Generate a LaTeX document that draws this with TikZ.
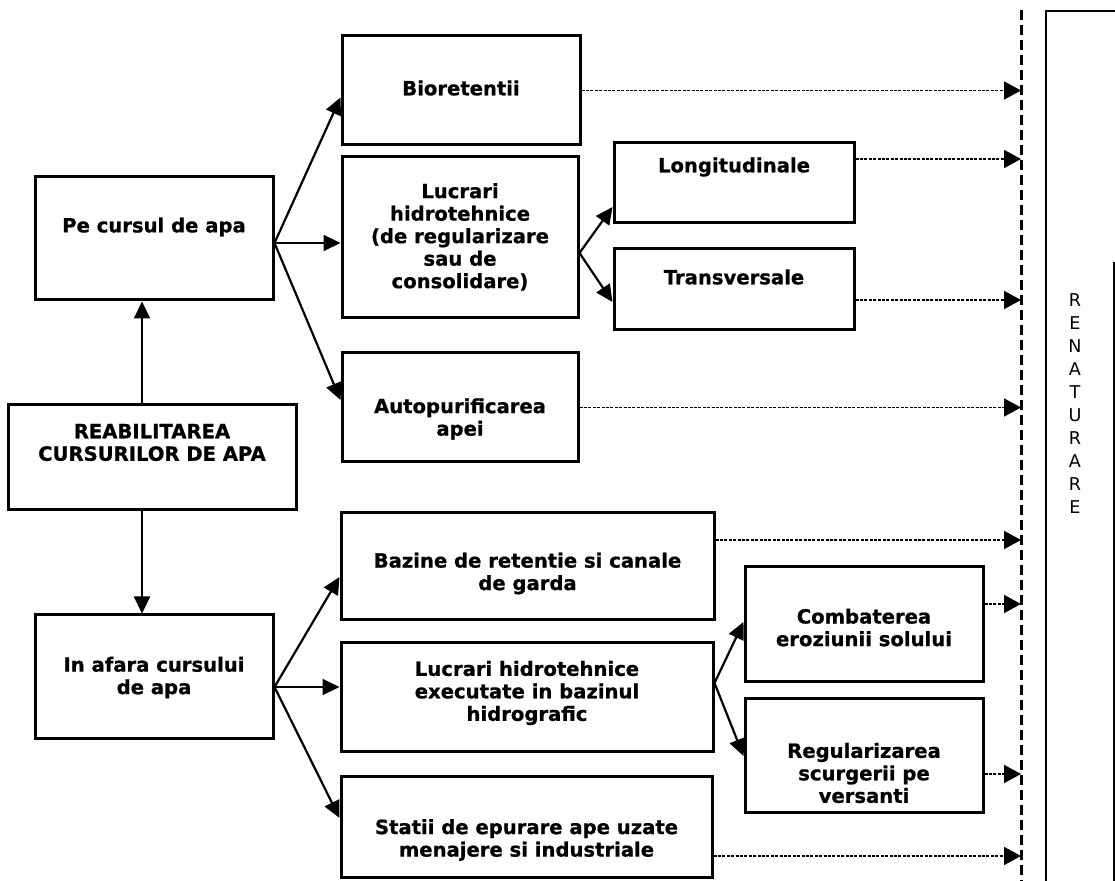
\documentclass[tikz,border=0pt]{standalone}
\usepackage{fontspec}
\setmainfont{DejaVu Sans}
\newfontface\heavyface[FakeBold=0.8]{DejaVu Sans Bold}
\usetikzlibrary{arrows.meta}
\tikzset{
  boxst/.style={draw, line width=1.5pt, inner sep=0pt, rectangle},
  txt/.style={font=\fontsize{9.8pt}{11.25pt}\selectfont\heavyface, align=center, inner sep=0pt},
  arr/.style={line width=1.1pt, -{Triangle[length=8.5pt,width=8pt]}},
  dotarr/.style={line width=0.9pt, dash pattern=on 1.5pt off 0.7pt, -{Triangle[length=8.5pt,width=9pt]}},
  sepline/.style={line width=1.5pt, dash pattern=on 5pt off 2.5pt},
}
\newcommand\mybox[7]{%
  \node[boxst, minimum width={(#4-#2)*0.5pt}, minimum height={(#5-#3)*0.5pt}] (#1) at ({(#2+#4)/2},{(#3+#5)/2}) {};
  \node[txt] (#1-t) at ({(#2+#4)/2},#6) {#7};
}
\begin{document}
\begin{tikzpicture}[x=0.5pt,y=-0.5pt]
\fill[white] (0,0) rectangle (1115,881);
\useasboundingbox (0,0) rectangle (1115,881);

\mybox{reab}{8}{405}{296}{510}{442.5}{REABILITAREA\\CURSURILOR DE APA}
\mybox{pe}{35}{177}{273}{300}{227}{Pe cursul de apa}
\mybox{afara}{35}{615}{273}{739}{677.5}{In afara cursului\\de apa}
\mybox{bio}{342}{36}{580}{145}{88}{Bioretentii}
\mybox{luc1}{342}{157}{578}{318}{237}{Lucrari\\hidrotehnice\\(de regularizare\\sau de\\consolidare)}
\mybox{auto}{342}{353}{578}{462}{419}{Autopurificarea\\apei}
\mybox{lon}{614}{143}{854}{223}{167}{Longitudinale}
\mybox{tra}{614}{249}{854}{330}{277}{Transversale}
\mybox{baz}{341}{513}{714}{620}{573.5}{Bazine de retentie si canale\\de garda}
\mybox{luc2}{341}{643}{713}{752}{693}{Lucrari hidrotehnice\\executate in bazinul\\hidrografic}
\mybox{sta}{341}{777}{712}{878}{840}{Statii de epurare ape uzate\\menajere si industriale}
\mybox{com}{745}{567}{983}{682}{627.5}{Combaterea\\eroziunii solului}
\mybox{reg}{745}{699}{983}{813}{773}{Regularizarea\\scurgerii pe\\versanti}

% separator line and RENATURARE frame
\coordinate (dtop) at (1021,10);
\coordinate (dbot) at (1021,881);
\draw[sepline] (dtop) -- (dbot);
\draw[line width=1.3pt] (1046,881) -- (1046,11) -- (1115,11);
\draw[line width=0.7pt] (1114,262) -- (1114,881);
\node[font=\fontsize{8.8pt}{11.5pt}\selectfont, align=center, inner sep=0pt] (ren) at (1075,403.5)
  {R\\E\\N\\A\\T\\U\\R\\A\\R\\E};

% vertical arrows
\coordinate (rn) at ([xshift=-5pt]reab.north);
\coordinate (rs) at ([xshift=-5pt]reab.south);
\draw[arr] (rn) -- (rn |- pe.south);
\draw[arr] (rs) -- (rs |- afara.north);

% from Pe cursul de apa
\coordinate (peo) at ([yshift=-2.25pt]pe.east);
\draw[arr] (peo) -- ([yshift=-3.5pt]bio.west);
\draw[arr] (peo) -- (peo -| luc1.west);
\draw[arr] (peo) -- ([yshift=3.75pt]auto.west);

% from Lucrari hidrotehnice (upper)
\coordinate (l1o) at ([yshift=-7.75pt]luc1.east);
\draw[arr] (l1o) -- ([yshift=-12pt]lon.west);
\draw[arr] (l1o) -- ([yshift=-6.25pt]tra.west);

% from In afara cursului de apa
\coordinate (afo) at ([yshift=-5pt]afara.east);
\draw[arr] (afo) -- ([yshift=-5.25pt]baz.west);
\draw[arr] (afo) -- (afo -| luc2.west);
\draw[arr] (afo) -- ([yshift=4.75pt]sta.west);

% from Lucrari hidrotehnice (lower)
\coordinate (l2o) at ([yshift=7.25pt]luc2.east);
\draw[arr] (l2o) -- ([yshift=1.25pt]com.west);
\draw[arr] (l2o) -- (reg.west);

% dotted arrows to the separator
\draw[dotarr] (bio.east) -- (bio.east -| dtop);
\draw[dotarr] ([yshift=12pt]lon.east) -- ([yshift=12pt]lon.east -| dtop);
\draw[dotarr] ([yshift=-5.25pt]tra.east) -- ([yshift=-5.25pt]tra.east -| dtop);
\draw[dotarr] (auto.east) -- (auto.east -| dtop);
\draw[dotarr] ([yshift=13.25pt]baz.east) -- ([yshift=13.25pt]baz.east -| dtop);
\draw[dotarr] ([yshift=10.25pt]com.east) -- ([yshift=10.25pt]com.east -| dtop);
\draw[dotarr] ([yshift=-9pt]reg.east) -- ([yshift=-9pt]reg.east -| dtop);
\draw[dotarr] ([yshift=-14.25pt]sta.east) -- ([yshift=-14.25pt]sta.east -| dtop);
\end{tikzpicture}
\end{document}
